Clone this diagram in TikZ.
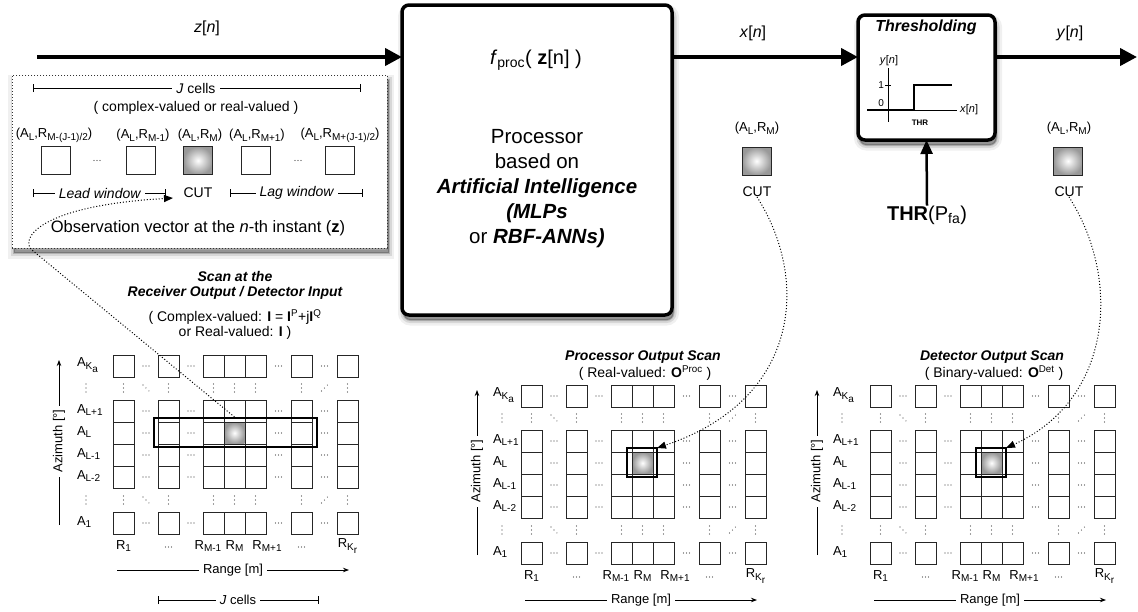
\documentclass[tikz,border=0pt]{standalone}
\usepackage{fontspec}
\setmainfont{Liberation Sans}
\usetikzlibrary{arrows.meta,calc}
\newcommand{\fs}[2]{\fontsize{#1}{#2}\selectfont}
\newcommand{\lo}[1]{\raisebox{-2.8pt}{\fontsize{10}{11}\selectfont #1}}
\begin{document}
\begin{tikzpicture}[x=1pt,y=-1pt,
  every node/.style={inner sep=0pt,outer sep=0pt},
  softshadow/.style={
    preaction={solid,draw=black,fill=black,opacity=0.06,line width=11pt,transform canvas={xshift=1.5pt,yshift=-5pt}},
    preaction={solid,draw=black,fill=black,opacity=0.10,line width=6pt,transform canvas={xshift=1.5pt,yshift=-5pt}},
    preaction={solid,draw=black,fill=black,opacity=0.18,line width=2pt,transform canvas={xshift=1.5pt,yshift=-5pt}}},
  bigbox/.style={draw=black,line width=3.5pt,rounded corners=7pt,fill=white,softshadow},
  obsbox/.style={draw=black!80,line width=1pt,dash pattern=on 1.2pt off 1.8pt,fill=white,softshadow},
  mainarrow/.style={line width=4pt,-{Triangle[length=17pt,width=17pt]}},
  thinarrow/.style={line width=0.8pt,-{Stealth[length=6pt,width=4.5pt]}},
  dotarrow/.style={line width=1pt,dash pattern=on 1pt off 2pt,-{Triangle[length=9pt,width=7pt]}},
  bracket/.style={line width=0.8pt,{Bar[width=8pt]}-{Bar[width=8pt]}},
  cell/.style={draw=black!85,line width=0.8pt},
  cutshade/.style={inner color=white,outer color=black!40},
  cutcell/.style={draw=black!85,line width=0.8pt,shading=radial,inner color=white,outer color=black!40,minimum width=29pt,minimum height=28pt},
  obscell/.style={draw=black!85,line width=0.8pt,minimum width=29pt,minimum height=28pt},
  hl/.style={draw=black,line width=2.5pt},
  vdots/.style={line width=1.3pt,line cap=round,dash pattern=on 0pt off 4pt,black!75},
  hdots/.style={line width=1.1pt,line cap=round,dash pattern=on 0pt off 3pt,black!75},
  ddots/.style={line width=1.1pt,line cap=round,dash pattern=on 0pt off 4.2pt,black!75},
  siglab/.style={font=\fs{16}{19}},
  obstext/.style={font=\fs{14}{17}},
  cellab/.style={font=\fs{13}{15}},
  gridlab/.style={font=\fs{13}{15}},
  whitelab/.style={fill=white,inner xsep=4pt,inner ysep=1pt},
  pics/scan/.style 2 args={code={
    \coordinate (-o) at (0,0);
    \foreach \xx in {0,45,90,111,132,178,224}{
      \foreach \yy in {0,45,67,89,111,157}{
        \draw[cell] (\xx,\yy) rectangle ++(21,22);
      }
    }
    \shade[cutshade] (111.4,67.4) rectangle (131.6,88.6);
    \draw[cell] (111,67) rectangle ++(21,22);
    \coordinate (-cut) at (121.5,78);
    \coordinate (-cuttop) at (121.5,62);
    \foreach \yy in {11,56,78,100,122,168}{
      \foreach \xx in {33,78,165.5,211.5}{
        \draw[hdots] (\xx-3,\yy) -- (\xx+3.01,\yy);
      }
    }
    \foreach \yy in {33,145}{
      \foreach \xx in {10.5,55.5,100.5,121.5,142.5,188.5,234.5}{
        \draw[vdots] (\xx,\yy-4) -- (\xx,\yy+4.01);
      }
      \draw[vdots] (#1+9,\yy-4) -- (#1+9,\yy+4.01);
      \draw[ddots] (30,\yy-3) -- (36,\yy+3);
      \draw[ddots] (208.5,\yy+3) -- (214.5,\yy-3);
    }
    \node[gridlab,anchor=west] (-aka) at (#1,10) {A\lo{K\lo{a}}};
    \node[gridlab,anchor=west] (-alp) at (#1,55) {A\lo{L+1}};
    \node[gridlab,anchor=west] (-al) at (#1,77) {A\lo{L}};
    \node[gridlab,anchor=west] (-alm) at (#1,99) {A\lo{L-1}};
    \node[gridlab,anchor=west] (-alm2) at (#1,121) {A\lo{L-2}};
    \node[gridlab,anchor=west] (-a1) at (#1,167) {A\lo{1}};
    \node[gridlab] (-r1) at (10.5,191) {R\lo{1}};
    \draw[hdots] (52.5,192) -- (58.51,192);
    \node[gridlab] (-rmm) at (95,191) {R\lo{M-1}};
    \node[gridlab] (-rm) at (121.5,191) {R\lo{M}};
    \node[gridlab] (-rmp) at (154,191) {R\lo{M+1}};
    \draw[hdots] (185.5,192) -- (191.51,192);
    \node[gridlab] (-rk) at (234.5,191) {R\lo{K\lo{r}}};
    \coordinate (-ra) at (4,215);
    \coordinate (-rb) at (236,215);
    \draw[thinarrow] (-ra) -- (-rb);
    \node[gridlab,whitelab] (-rl) at (120,215) {Range [m]};
    \coordinate (-za) at (#2,170);
    \coordinate (-zb) at (#2,5);
    \draw[thinarrow] (-za) -- (-zb);
    \node[gridlab,whitelab,rotate=90] (-zl) at (#2,86) {Azimuth [°]};
  }}
]
\useasboundingbox (0,0) rectangle (1138,611);
\fill[white] (0,0) rectangle (1138,611);

% ---------- main boxes ----------
\node[bigbox,anchor=north west,minimum width=270pt,minimum height=310pt] (proc) at (402,5) {};
\node[bigbox,anchor=north west,minimum width=137pt,minimum height=125pt] (thr) at (858,15) {};
\node[obsbox,anchor=north west,minimum width=375pt,minimum height=173pt] (obs) at (12,75) {};

% ---------- main signal path ----------
\coordinate (zin) at (37,57);
\coordinate (yout) at (1137,57);
\draw[mainarrow] (zin) -- (zin -| proc.west);
\draw[mainarrow] (proc.east |- zin) -- (zin -| thr.west);
\draw[mainarrow] (thr.east |- zin) -- (yout);
\node[siglab] (zlab) at (207,28) {\textit{z}[\textit{n}]};
\node[siglab] (xlab) at (753,33) {\textit{x}[\textit{n}]};
\node[siglab] (ylab) at (1070,33) {\textit{y}[\textit{n}]};

% ---------- processor text ----------
\node[font=\fs{20}{24}] (fproc) at (536,60) {\textit{f}\textsubscript{proc}( \textbf{z}[n] )};
\node[font=\fs{20.5}{25},align=center] (ptext) at (537,189) {Processor\\based on\\\textbf{\textit{Artificial Intelligence}}\\\textbf{\textit{(MLPs}}\\or \textbf{\textit{RBF-ANNs)}}};

% ---------- thresholding ----------
\node[font=\bfseries\itshape\fs{16}{19}] (thrt) at (926,27) {Thresholding};
\draw[line width=0.8pt] (867,110) -- (957,110);
\draw[line width=0.8pt] (888,68) -- (888,122);
\draw[line width=0.8pt] (885,85) -- (891,85);
\draw[line width=2pt] (867,110) -- (914,110) -- (914,85) -- (952,85);
\node[font=\fs{11}{13}] (tyl) at (889,61) {\textit{y}[\textit{n}]};
\node[font=\fs{10}{12},anchor=east] (t1) at (884,85) {1};
\node[font=\fs{10}{12},anchor=east] (t0) at (884,103) {0};
\node[font=\fs{11}{13},anchor=west] (txl) at (960,110) {\textit{x}[\textit{n}]};
\node[font=\bfseries\fs{8}{10}] (tthr) at (920,123) {THR};
\node[font=\fs{20}{24}] (thrp) at (927,215) {\textbf{THR}(P\textsubscript{fa})};
\draw[mainarrow,line width=2.5pt,-{Triangle[length=14pt,width=12pt]}] (thrp.north) -- (thr.south);

% ---------- observation vector contents ----------
\draw[bracket] (33,88) -- (361,88);
\node[obstext,whitelab] (jc) at (196,88) {\textit{J} cells};
\node[obstext] (cr) at (196,108) {( complex-valued or real-valued )};
\node[cellab] (ol1) at (54,135) {(A\lo{L},R\lo{M-(J-1)/2})};
\node[cellab] (ol2) at (143,135) {(A\lo{L},R\lo{M-1})};
\node[cellab] (ol3) at (200,135) {(A\lo{L},R\lo{M})};
\node[cellab] (ol4) at (257,135) {(A\lo{L},R\lo{M+1})};
\node[cellab] (ol5) at (340,135) {(A\lo{L},R\lo{M+(J-1)/2})};
\node[obscell] (oc1) at (56,160.5) {};
\node[obscell] (oc2) at (141,160.5) {};
\node[cutcell] (oc3) at (198,160.5) {};
\node[obscell] (oc4) at (256,160.5) {};
\node[obscell] (oc5) at (340,160.5) {};
\draw[hdots] (94,160.5) -- (100.01,160.5);
\draw[hdots] (295,160.5) -- (301.01,160.5);
\draw[bracket] (33,193) -- (166,193);
\node[obstext,whitelab] (lead) at (100,193) {\textit{Lead window}};
\node[obstext] (ocut) at (198,193) {CUT};
\draw[bracket] (230,193) -- (363,193);
\node[obstext,whitelab] (lag) at (297,193) {\textit{Lag window}};
\node[font=\fs{16.5}{19}] (obsl) at (198,228) {Observation vector at the \textit{n}-th instant (\textbf{z})};
\coordinate (obstip) at (173,198);

% ---------- CUT cells near the top ----------
\node[cellab] (mcl) at (757,128) {(A\lo{L},R\lo{M})};
\node[cutcell] (mcc) at (756.5,161) {};
\node[obstext] (mcut) at (757,192) {CUT};
\node[cellab] (rcl) at (1069,128) {(A\lo{L},R\lo{M})};
\node[cutcell] (rcc) at (1068,161) {};
\node[obstext] (rcut) at (1069,192) {CUT};

% ---------- scans ----------
\node[font=\bfseries\itshape\fs{14}{15}, align=center] (lt) at (235,285.5) {Scan at the\\Receiver Output / Detector Input};
\node[font=\fs{14}{15}, align=center] (lst) at (235,324.5) {( Complex-valued: \textbf{I} = \textbf{I}\textsuperscript{P}+j\textbf{I}\textsuperscript{Q}\\or Real-valued: \textbf{I} )};
\pic (L) at (113,355) {scan={-36}{-54}};
\node[hl,anchor=north west,minimum width=163pt,minimum height=29pt] (Lhl) at (154,418) {};
\draw[bracket] (158,600) -- (319,600);
\node[gridlab,whitelab] (ljc) at (238,600) {\textit{J} cells};

\node[font=\bfseries\itshape\fs{14}{15}] (mt) at (643,357) {Processor Output Scan};
\node[font=\fs{14}{15}] (mst) at (645,373) {( Real-valued: \textbf{O}\textsuperscript{Proc} )};
\pic (M) at (521,385) {scan={-28}{-44}};
\node[hl,anchor=north west,minimum width=30pt,minimum height=29pt] (Mhl) at (627,448) {};

\node[font=\bfseries\itshape\fs{14}{15}] (rt) at (992,357) {Detector Output Scan};
\node[font=\fs{14}{15}] (rst) at (994,373) {( Binary-valued: \textbf{O}\textsuperscript{Det} )};
\pic (R) at (870,385) {scan={-37}{-53}};
\node[hl,anchor=north west,minimum width=30pt,minimum height=29pt] (Rhl) at (976,448) {};

% ---------- dotted connectors ----------
\draw[dotarrow] (L-cuttop) -- (32,250) .. controls (20,240) and (36,206) .. (obstip);
\draw[dotarrow] (mcut.south) .. controls (810,280) and (800,400) .. (Mhl.north east);
\draw[dotarrow] (rcut.south) .. controls (1122,280) and (1112,400) .. (Rhl.north east);
\end{tikzpicture}
\end{document}
